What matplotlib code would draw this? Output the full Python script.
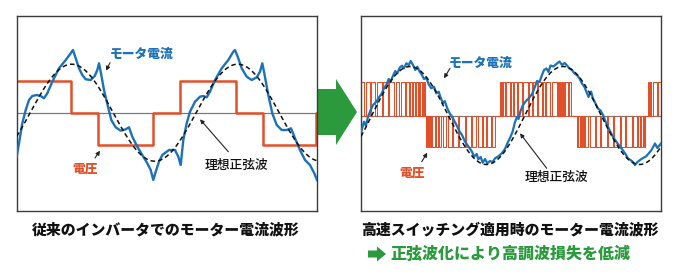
import numpy as np
import matplotlib
matplotlib.use("Agg")
import matplotlib.pyplot as plt
from matplotlib.patches import Polygon

plt.rcParams['font.family'] = ['Noto Sans CJK JP', 'DejaVu Sans']

# ---------------- data ----------------
# Left panel: conventional inverter (x: 0..300 time units, y: amplitude units)
LEFT_CURRENT_X = [0, 2.3, 5.6, 9, 12.3, 15.6, 20, 24, 27.3, 30.6,
                  35.6, 42.3, 49, 54, 56.3, 59, 62.3, 65.6, 69, 74,
                  78, 80.6, 82.3, 84, 87.3, 91.3, 94.6, 99, 104, 109,
                  112.3, 115.6, 120.6, 125.6, 130.6, 134, 136.6, 139, 142.3, 145.6,
                  152.3, 158.3, 161.6, 164, 166.6, 170, 173.3, 178.3, 183.3, 186.6,
                  190, 193.3, 198.3, 205, 211.6, 216.6, 218.3, 221, 225, 230,
                  235, 240, 243.3, 245.6, 247.6, 251.6, 255.6, 260, 265, 270,
                  274.3, 278.3, 283.3, 288.3, 293.3, 297.6, 300.3]
LEFT_CURRENT_Y = [-44, -30.6, -10.6, 2.7, 12.7, 16.7, 17.7, 16.7, 14.4, 19.4,
                  31, 44.4, 52.7, 59.4, 62.7, 54.4, 44.4, 37.7, 33.4, 32.7,
                  36.7, 42.7, 49.4, 41, 22.7, 6, -7.3, -14.6, -18, -16.6,
                  -14.6, -24, -34, -42.3, -50.6, -57.3, -67.3, -59, -49, -42.3,
                  -37.3, -37.3, -44, -52.3, -27.3, -10.6, 1, 11, 16, 16.7,
                  15.4, 21, 32.7, 44.4, 52.7, 61, 62.7, 56, 44.4, 36,
                  32.7, 35.4, 41, 49.4, 39.4, 17.7, -0.6, -12.3, -17.3, -17.3,
                  -15.6, -25.6, -37.3, -47.3, -52.3, -60.6, -67.3]
LEFT_VOLT_EDGES = [0, 54.3, 81, 136, 163.6, 219, 246.6, 299.0]
LEFT_VOLT_LEVELS = [32, 0, -32, 0, 32, 0, -32, 0]
LEFT_SINE_AMPLITUDE = 48.5
LEFT_SINE_PERIOD = 166.0
LEFT_SINE_PEAK_AT = 55.0

# Right panel: high-speed switching
RIGHT_CURRENT_X = [0, 3, 5, 7, 9.7, 12, 15.3, 17.7, 20.3, 23,
                   25.3, 27.7, 29.7, 32, 34.3, 36.3, 38.7, 41, 43, 45.3,
                   47.7, 49.7, 52, 54.3, 56.3, 58.7, 61, 63, 65.3, 67.7,
                   70.3, 73, 75.3, 77.7, 79.7, 82, 83.7, 86.3, 88.7, 91,
                   93.7, 96.3, 98.7, 101, 103.7, 106.3, 108.7, 111, 113, 115.7,
                   117.3, 119.7, 121.7, 124, 126.3, 129, 131.7, 134, 136.3, 139,
                   141, 144, 146.5, 149, 151.5, 154, 156, 157.5, 159.5, 162,
                   165, 168, 171, 173.5, 176, 178.5, 181, 183, 185.5, 187.5,
                   189.5, 192.5, 196, 198.5, 201, 203.5, 206, 208.5, 211, 213.5,
                   216, 218.5, 221, 223.5, 225.5, 227.5, 230, 232, 234.5, 237,
                   239.5, 242, 244.5, 247, 249.5, 252, 254.5, 257, 259.5, 262,
                   264.5, 267, 269.5, 272, 274, 276.5, 279, 282, 285, 288,
                   290.5, 294, 296.3, 300]
RIGHT_CURRENT_Y = [-17, -6.2, -10.2, -1.2, 5.5, 10.5, 13.8, 17.8, 21.2, 27.2,
                   30.5, 36.5, 33.8, 39.8, 44.5, 42.2, 47.8, 49.8, 47.2, 52.2,
                   50.5, 54.5, 50.5, 45.5, 48.8, 43.8, 40.5, 36.5, 37.8, 31.2,
                   27.2, 28.8, 22.2, 23.8, 17.8, 12.2, 14.5, 7.2, 2.2, -1.2,
                   -6.2, -11.2, -16.2, -19.5, -25.5, -29.5, -32.8, -36.2, -41.2, -38.5,
                   -43.8, -41.5, -47.2, -43.5, -47.8, -45.5, -46.5, -42.8, -41.5, -39.5,
                   -37.5, -33.5, -27.5, -22.5, -16.5, -6.5, -1.5, -3.5, 4.5, 10.5,
                   14.5, 17.5, 21.5, 27.5, 34.5, 33.5, 40.5, 45.5, 47, 43.5,
                   50, 49, 52, 54, 50.5, 52.5, 50, 47, 45.5, 42,
                   40.5, 37, 32, 28.5, 23.5, 18.5, 24, 17, 12, 7,
                   5, 0.5, -6, -11.5, -16.5, -21.5, -25, -28.5, -31.5, -35,
                   -38.5, -43, -44.5, -46.5, -49.5, -46.5, -44.5, -42.5, -41, -37.5,
                   -34.5, -28, -32.5, -28]
RIGHT_POS_PULSES = [(0, 3), (4.5, 8.5), (10, 14), (15.5, 20.5), (22, 26.5), (28, 33),
                    (34.5, 38), (39.5, 43.5), (45, 47.5), (49, 51), (52, 53.5), (55, 56.5),
                    (57.2, 58.2), (59, 60.5), (61.2, 62), (62.7, 63.7),
                    (138.7, 139.5), (140.3, 141.3), (142, 143.7), (144.5, 148.7), (149.5, 152.3),
                    (153, 155.7), (157.3, 160.7), (161.5, 167.3), (168, 170.7), (172.3, 175.7),
                    (176.5, 180.7), (182.3, 184), (185, 189), (190.7, 195.7), (196.5, 197.3),
                    (198, 199), (200, 200.7), (202.3, 203), (204, 207.3), (208, 209.5),
                    (287.3, 288), (288.7, 289.5), (292.3, 295.7), (296.5, 300)]
RIGHT_NEG_PULSES = [(64.5, 65.5), (66.5, 67.5), (68.5, 70.3), (71, 73.7), (75.3, 77), (78, 80.3),
                    (81.5, 85.3), (86.5, 91), (92, 97), (98, 103.7), (104.5, 110.3), (111.2, 115.3),
                    (116.5, 121), (122, 125.3), (126, 130.3), (131, 133.7),
                    (215.7, 216.5), (217.3, 218.5), (219.5, 220.7), (221.5, 223), (224, 227.3),
                    (229, 234), (235, 239), (240, 245.7), (246.5, 252.3), (253.2, 259),
                    (260, 264), (265, 270.7), (271.5, 276.3), (277.2, 279), (280, 282.3), (283, 284)]
RIGHT_VOLT_HIGH = 34
RIGHT_VOLT_LOW = -31
RIGHT_SINE_AMPLITUDE = 49.0
RIGHT_SINE_PERIOD = 153.0
RIGHT_SINE_PEAK_AT = 49.0

LABEL_CURRENT = "モータ電流"
LABEL_VOLTAGE = "電圧"
LABEL_SINE = "理想正弦波"
CAPTION_LEFT = "従来のインバータでのモーター電流波形"
CAPTION_RIGHT = "高速スイッチング適用時のモーター電流波形"
CAPTION_NOTE = "正弦波化により高調波損失を低減"

BLUE = "#1b72b8"
ORANGE = "#e2502a"
GREEN = "#2a9a3c"

# ---------------- figure ----------------
W, H = 680, 279
fig = plt.figure(figsize=(W / 100, H / 100), dpi=100)


def px_axes(x0, y0, x1, y1):
    return fig.add_axes([x0 / W, 1 - y1 / H, (x1 - x0) / W, (y1 - y0) / H])


def style_panel(ax):
    for s in ax.spines.values():
        s.set_color("#3c3c3c")
        s.set_linewidth(1.0)
    ax.set_xticks([])
    ax.set_yticks([])


def arrow(ax, xy_from, xy_to):
    ax.annotate("", xy=xy_to, xytext=xy_from,
                arrowprops=dict(arrowstyle="-|>", color="#222222", lw=0.8,
                                mutation_scale=6, shrinkA=0, shrinkB=0))


# Left panel
axL = px_axes(16.7, 16, 317, 211)
axL.set_xlim(0, 300.3)
axL.set_ylim(-98.3, 96.7)
style_panel(axL)
axL.axhline(0, color="#7a7a7a", lw=0.9, zorder=1)
lx = list(LEFT_VOLT_EDGES) + [300.3]
ly = list(LEFT_VOLT_LEVELS) + [LEFT_VOLT_LEVELS[-1]]
axL.step(lx, ly, where="post", color=ORANGE, lw=1.8, zorder=2)
axL.plot(LEFT_CURRENT_X, LEFT_CURRENT_Y, color=BLUE, lw=1.7, zorder=3,
         solid_joinstyle="round")
t = np.linspace(0, 300.3, 600)
axL.plot(t, LEFT_SINE_AMPLITUDE * np.cos(2 * np.pi * (t - LEFT_SINE_PEAK_AT) / LEFT_SINE_PERIOD),
         color="#111111", lw=1.1, ls=(0, (3, 2)), zorder=4)
axL.text(124.8, 58.7, LABEL_CURRENT, color=BLUE, fontsize=9.2, fontweight="heavy",
         ha="center", va="center")
arrow(axL, (93.3, 50), (89.3, 42))
axL.text(68.8, -56.3, LABEL_VOLTAGE, color=ORANGE, fontsize=9.2, fontweight="heavy",
         ha="center", va="center")
arrow(axL, (78.3, -45.3), (83.3, -38))
axL.text(219.3, -52.3, LABEL_SINE, color="#111111", fontsize=9.2, fontweight="medium",
         ha="center", va="center")
arrow(axL, (211.6, -39), (183.3, -6.6))

# Right panel
axR = px_axes(361, 16, 661, 211)
axR.set_xlim(0, 300)
axR.set_ylim(-95.5, 99.5)
style_panel(axR)
axR.axhline(0, color="#7a7a7a", lw=0.9, zorder=1)
pulses = sorted([(a, b, RIGHT_VOLT_HIGH) for a, b in RIGHT_POS_PULSES] +
                [(a, b, RIGHT_VOLT_LOW) for a, b in RIGHT_NEG_PULSES])
vx, vy = [0.0], [0.0]
for a, b, lev in pulses:
    vx += [a, a, b, b]
    vy += [0, lev, lev, 0]
vx.append(300)
vy.append(0)
axR.plot(vx, vy, color=ORANGE, lw=0.75, zorder=2)
axR.plot(RIGHT_CURRENT_X, RIGHT_CURRENT_Y, color=BLUE, lw=1.6, zorder=3,
         solid_joinstyle="round")
t = np.linspace(0, 300, 600)
axR.plot(t, RIGHT_SINE_AMPLITUDE * np.cos(2 * np.pi * (t - RIGHT_SINE_PEAK_AT) / RIGHT_SINE_PERIOD),
         color="#111111", lw=1.1, ls=(0, (3, 2)), zorder=4)
axR.text(119.5, 53, LABEL_CURRENT, color=BLUE, fontsize=9.2, fontweight="heavy",
         ha="center", va="center")
arrow(axR, (89, 47.2), (83, 37.2))
axR.text(51.5, -57, LABEL_VOLTAGE, color=ORANGE, fontsize=9.2, fontweight="heavy",
         ha="center", va="center")
arrow(axR, (60.7, -46.2), (66.3, -37.2))
axR.text(195.5, -62, LABEL_SINE, color="#111111", fontsize=9.2, fontweight="medium",
         ha="center", va="center")
arrow(axR, (185.7, -52.8), (159, -17.8))

# Overlay for arrows and captions (pixel coordinates)
ov = fig.add_axes([0, 0, 1, 1], zorder=-1)
ov.set_xlim(0, W)
ov.set_ylim(H, 0)
ov.axis("off")
ov.add_patch(Polygon([(318, 89), (336, 89), (336, 79), (357, 112), (336, 145),
                      (336, 135), (318, 135)], closed=True, color=GREEN, lw=0))
ov.text(166, 230, CAPTION_LEFT, fontsize=10.7, fontweight="black", color="#111111",
        ha="center", va="center")
ov.text(510, 230, CAPTION_RIGHT, fontsize=10.7, fontweight="black", color="#111111",
        ha="center", va="center")
ov.add_patch(Polygon([(368, 250.5), (377, 250.5), (377, 246.5), (386, 254),
                      (377, 261.5), (377, 257.5), (368, 257.5)], closed=True, color=GREEN, lw=0))
ov.text(390, 254, CAPTION_NOTE, fontsize=11.5, fontweight="black", color=GREEN,
        ha="left", va="center")

fig.savefig("out.png", dpi=100, facecolor="white")
